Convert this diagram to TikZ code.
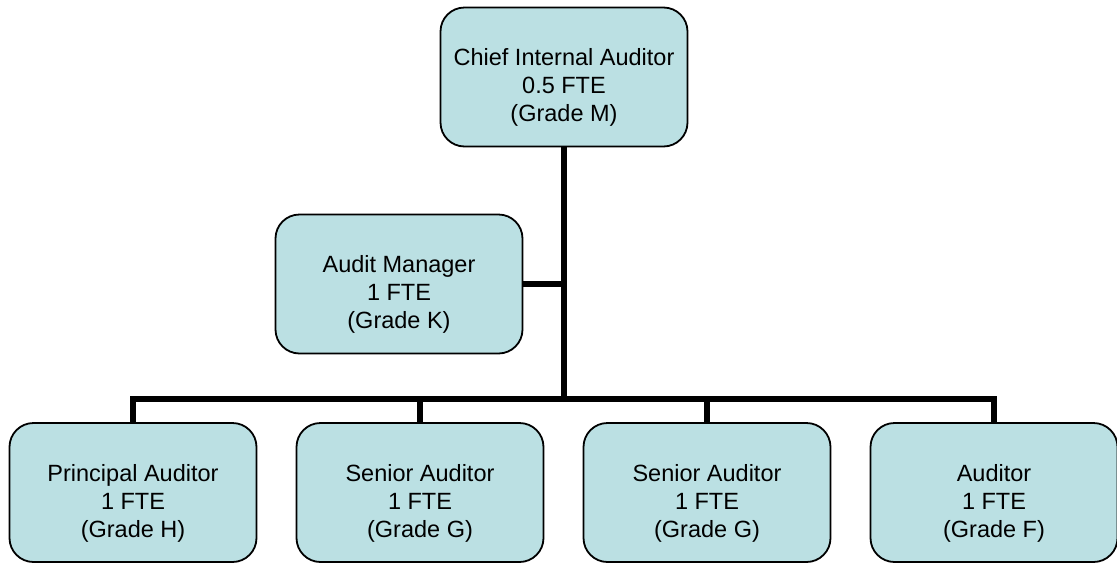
\documentclass[tikz,border=0pt]{standalone}
\usepackage{fontspec}
\setmainfont{Liberation Sans}
\definecolor{boxfill}{RGB}{187,224,227}
% text sits a little below the middle of each box
\newcommand{\posttext}[1]{\raisebox{-11pt}[\height][\depth]{%
  \begin{tabular}{@{}c@{}}#1\end{tabular}}}

\begin{document}
\begin{tikzpicture}[x=1pt,y=-1pt,
  post/.style={draw,line width=1.8pt,rounded corners=24pt,fill=boxfill,
    minimum width=247pt,minimum height=139pt,inner sep=0pt,
    font=\fontsize{23.5}{28}\selectfont},
  link/.style={line width=5.5pt}]
\useasboundingbox (0,0) rectangle (1117,563);
\node[post] (chief) at (564,77) {\posttext{Chief Internal Auditor\\0.5 FTE\\(Grade M)}};
\node[post] (manager) at (399,284) {\posttext{Audit Manager\\1 FTE\\(Grade K)}};
\node[post] (principal) at (133,492.5) {\posttext{Principal Auditor\\1 FTE\\(Grade H)}};
\node[post] (senior1) at (420,492.5) {\posttext{Senior Auditor\\1 FTE\\(Grade G)}};
\node[post] (senior2) at (707,492.5) {\posttext{Senior Auditor\\1 FTE\\(Grade G)}};
\node[post] (auditor) at (994,492.5) {\posttext{Auditor\\1 FTE\\(Grade F)}};
\coordinate (bus) at (564,399);
\draw[link] (chief.south) -- (bus);
\draw[link] (manager.east) -- (manager.east -| chief.south);
\draw[link] (principal.north) |- (auditor.north |- bus) -- (auditor.north);
\draw[link] (senior1.north) -- (senior1.north |- bus);
\draw[link] (senior2.north) -- (senior2.north |- bus);
\end{tikzpicture}
\end{document}
